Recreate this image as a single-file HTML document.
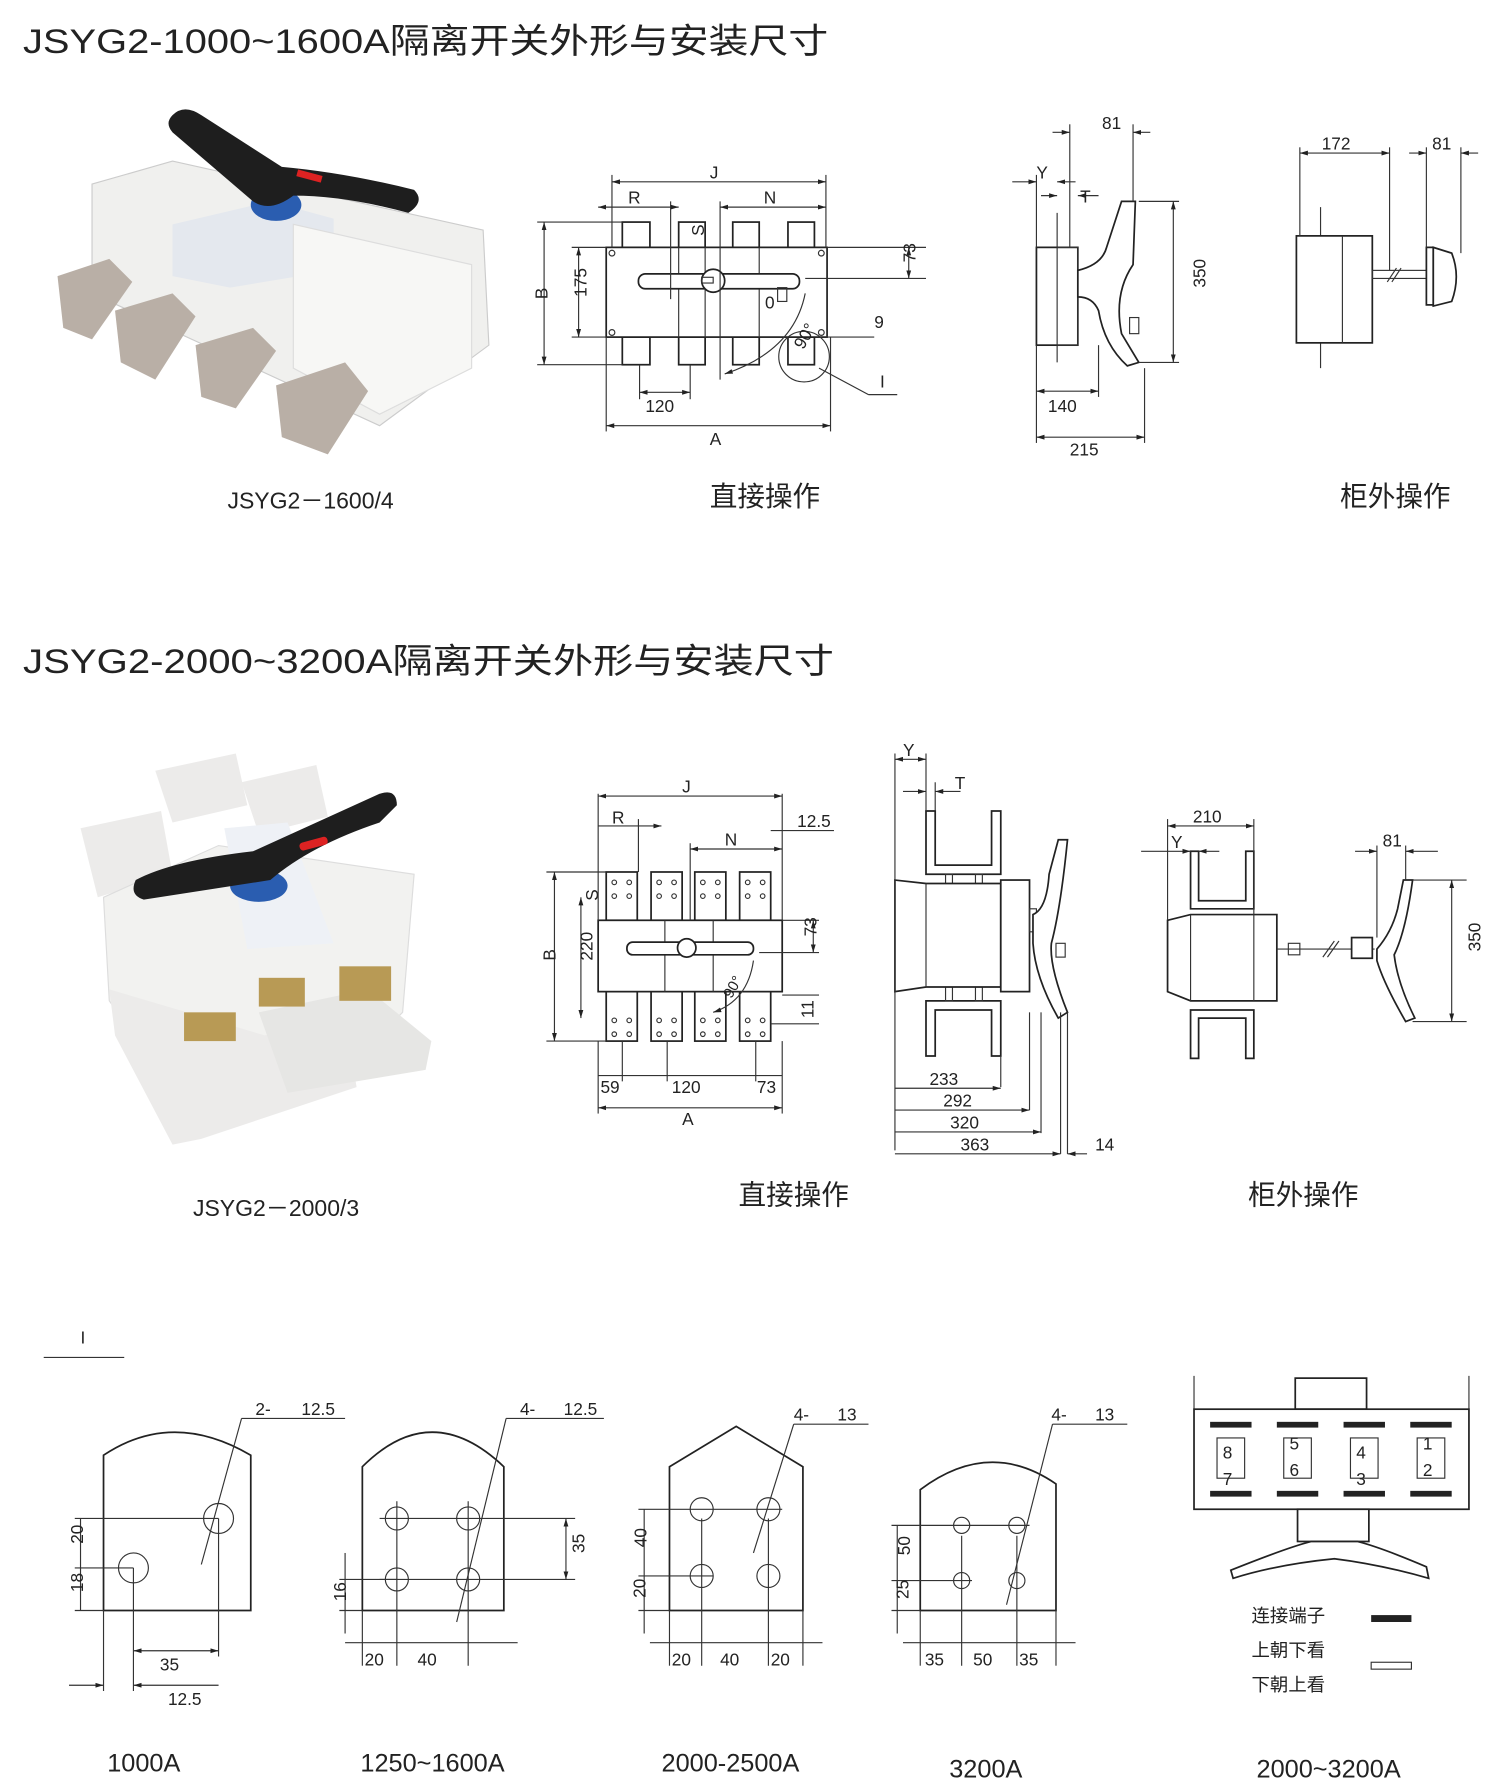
<!DOCTYPE html>
<html><head><meta charset="utf-8"><style>
html,body{margin:0;padding:0;background:#fff}
svg{display:block}
text{font-family:"Liberation Sans","Noto Sans CJK SC",sans-serif;fill:#222}
.l{stroke:#333;stroke-width:1;fill:none}
.b{stroke:#222;stroke-width:1.5;fill:#fff}
.t{font-size:15px}
</style></head><body>
<svg width="1500" height="1790" viewBox="0 0 1304 1556" xmlns="http://www.w3.org/2000/svg">
<defs><marker id="a" viewBox="0 0 10 10" refX="10" refY="5" markerWidth="7" markerHeight="7" orient="auto-start-reverse"><path d="M0,2L10,5L0,8z" fill="#222"/></marker></defs>

<!-- Section 1 -->
<text x="20" y="46" font-size="30" textLength="700" lengthAdjust="spacingAndGlyphs">JSYG2-1000~1600A隔离开关外形与安装尺寸</text>
<!-- photo 1 -->
<g>
<polygon points="80,160 150,140 420,200 425,300 330,370 80,255" fill="#f0f0ee" stroke="#ccc"/>
<polygon points="150,195 235,175 290,190 290,235 200,250 150,240" fill="#e4e8ee"/>
<polygon points="255,195 410,230 410,320 330,360 255,320" fill="#f7f7f5" stroke="#ddd"/>
<polygon points="50,240 95,225 115,245 80,295 55,285" fill="#b9afa6"/>
<polygon points="100,270 150,255 170,275 135,330 105,315" fill="#b9afa6"/>
<polygon points="170,300 220,285 240,305 205,355 175,345" fill="#b9afa6"/>
<polygon points="240,335 300,315 320,340 285,395 245,380" fill="#b9afa6"/>
<ellipse cx="240" cy="178" rx="22" ry="14" fill="#2a5db0"/>
<path d="M150,100 Q160,90 175,100 L245,145 Q300,150 360,165 Q370,175 355,185 Q300,170 255,170 Q235,185 220,175 L150,115 Q143,107 150,100Z" fill="#1e1e1e"/>
<rect x="258" y="150" width="22" height="6" fill="#d22" transform="rotate(15 269 153)"/>
</g>
<text x="270" y="442" font-size="20" text-anchor="middle">JSYG2－1600/4</text>

<!-- direct drawing 1 -->
<g>
<rect x="541" y="193" width="24" height="22" class="b"/><rect x="590" y="193" width="23" height="22" class="b"/>
<rect x="637" y="193" width="23" height="22" class="b"/><rect x="685" y="193" width="23" height="22" class="b"/>
<rect x="541" y="293" width="24" height="24" class="b"/><rect x="590" y="293" width="23" height="24" class="b"/>
<rect x="637" y="293" width="23" height="24" class="b"/><rect x="685" y="293" width="23" height="24" class="b"/>
<rect x="527" y="215" width="192" height="78" class="b"/>
<line x1="590" y1="215" x2="590" y2="293" class="l"/><line x1="613" y1="215" x2="613" y2="293" class="l"/><line x1="660" y1="215" x2="660" y2="293" class="l"/>
<rect x="555" y="238" width="140" height="13" rx="6" class="b"/>
<circle cx="620" cy="244" r="10" class="b"/><rect x="610" y="241" width="10" height="5" class="l"/>
<circle cx="532" cy="220" r="2.5" class="l"/><circle cx="714" cy="220" r="2.5" class="l"/>
<circle cx="532" cy="289" r="2.5" class="l"/><circle cx="714" cy="289" r="2.5" class="l"/>
<text x="665" y="268" class="t">0</text><rect x="676" y="250" width="8" height="12" class="l"/>
<circle cx="699" cy="310" r="22" class="l"/>
<path d="M700,255 Q690,305 630,325" class="l" marker-end="url(#a)"/>
<text x="690" y="300" class="t" transform="rotate(-60 698 295)">90°</text>
<line x1="712" y1="320" x2="755" y2="343" class="l"/><line x1="755" y1="343" x2="780" y2="343" class="l"/><text x="765" y="337" class="t">I</text>
<line x1="718" y1="293" x2="760" y2="293" class="l"/><text x="760" y="285" class="t">9</text>
<line x1="532" y1="152" x2="532" y2="215" class="l"/><line x1="718" y1="152" x2="718" y2="215" class="l"/>
<line x1="532" y1="158" x2="718" y2="158" class="l" marker-start="url(#a)" marker-end="url(#a)"/><text x="617" y="155" class="t">J</text>
<line x1="583" y1="175" x2="583" y2="260" class="l"/><line x1="626" y1="175" x2="626" y2="330" class="l"/>
<line x1="520" y1="180" x2="590" y2="180" class="l" marker-start="url(#a)" marker-end="url(#a)"/><text x="546" y="177" class="t">R</text>
<line x1="626" y1="180" x2="718" y2="180" class="l" marker-start="url(#a)" marker-end="url(#a)"/><text x="664" y="177" class="t">N</text>
<text x="607" y="210" class="t" transform="rotate(-90 607 205)">S</text>
<line x1="467" y1="193" x2="541" y2="193" class="l"/><line x1="467" y1="317" x2="541" y2="317" class="l"/>
<line x1="473" y1="193" x2="473" y2="317" class="l" marker-start="url(#a)" marker-end="url(#a)"/><text x="470" y="266" class="t" transform="rotate(-90 470 260)">B</text>
<line x1="497" y1="215" x2="527" y2="215" class="l"/><line x1="497" y1="293" x2="527" y2="293" class="l"/>
<line x1="503" y1="215" x2="503" y2="293" class="l" marker-start="url(#a)" marker-end="url(#a)"/><text x="498" y="270" class="t" transform="rotate(-90 498 258)">175</text>
<line x1="719" y1="215" x2="805" y2="215" class="l"/><line x1="700" y1="242" x2="805" y2="242" class="l"/>
<line x1="790" y1="215" x2="790" y2="242" class="l" marker-start="url(#a)" marker-end="url(#a)"/><text x="786" y="238" class="t" transform="rotate(-90 786 228)">73</text>
<line x1="556" y1="317" x2="556" y2="347" class="l"/><line x1="600" y1="317" x2="600" y2="347" class="l"/>
<line x1="556" y1="341" x2="600" y2="341" class="l" marker-start="url(#a)" marker-end="url(#a)"/><text x="561" y="358" class="t">120</text>
<line x1="527" y1="293" x2="527" y2="375" class="l"/><line x1="722" y1="293" x2="722" y2="375" class="l"/>
<line x1="527" y1="370" x2="722" y2="370" class="l" marker-start="url(#a)" marker-end="url(#a)"/><text x="617" y="387" class="t">A</text>
</g>
<text x="665" y="440" font-size="24" text-anchor="middle">直接操作</text>

<!-- side view 1 -->
<g>
<line x1="919" y1="185" x2="919" y2="315" class="l" stroke-width="2"/>
<rect x="901" y="215" width="36" height="85" class="b"/><rect x="919" y="215" width="18" height="85" class="l"/>
<path d="M937,235 Q958,230 962,215 L975,175 L987,175 L985,230 Q968,255 975,290 L990,315 L980,318 Q960,300 955,270 Q950,258 937,258Z" class="b"/>
<rect x="982" y="276" width="8" height="14" class="l"/>
<line x1="930" y1="108" x2="930" y2="215" class="l"/><line x1="985" y1="108" x2="985" y2="175" class="l"/>
<line x1="915" y1="115" x2="930" y2="115" class="l" marker-end="url(#a)"/><line x1="1000" y1="115" x2="985" y2="115" class="l" marker-end="url(#a)"/><text x="958" y="112" class="t">81</text>
<line x1="901" y1="152" x2="901" y2="215" class="l"/>
<line x1="880" y1="158" x2="901" y2="158" class="l" marker-end="url(#a)"/><line x1="935" y1="158" x2="919" y2="158" class="l" marker-end="url(#a)"/><text x="901" y="155" class="t">Y</text>
<line x1="905" y1="170" x2="919" y2="170" class="l" marker-end="url(#a)"/><line x1="955" y1="170" x2="937" y2="170" class="l" marker-end="url(#a)"/><text x="939" y="176" class="t">T</text>
<line x1="990" y1="175" x2="1025" y2="175" class="l"/><line x1="990" y1="315" x2="1025" y2="315" class="l"/>
<line x1="1020" y1="175" x2="1020" y2="315" class="l" marker-start="url(#a)" marker-end="url(#a)"/><text x="1036" y="262" class="t" transform="rotate(-90 1036 250)">350</text>
<line x1="901" y1="300" x2="901" y2="385" class="l"/><line x1="955" y1="300" x2="955" y2="345" class="l"/><line x1="995" y1="320" x2="995" y2="385" class="l"/>
<line x1="901" y1="340" x2="955" y2="340" class="l" marker-start="url(#a)" marker-end="url(#a)"/><text x="911" y="358" class="t">140</text>
<line x1="901" y1="380" x2="995" y2="380" class="l" marker-start="url(#a)" marker-end="url(#a)"/><text x="930" y="396" class="t">215</text>
</g>

<!-- cabinet 1 -->
<g>
<line x1="1148" y1="180" x2="1148" y2="320" class="l" stroke-width="2"/>
<rect x="1127" y="205" width="66" height="93" class="b"/><line x1="1167" y1="205" x2="1167" y2="298" class="l"/>
<rect x="1193" y="235" width="48" height="7" class="l"/><line x1="1206" y1="245" x2="1214" y2="233" class="l"/><line x1="1210" y1="245" x2="1218" y2="233" class="l"/>
<rect x="1240" y="215" width="6" height="50" class="b"/>
<path d="M1246,215 L1262,220 Q1270,240 1262,262 L1246,266Z" class="b"/>
<line x1="1130" y1="128" x2="1130" y2="205" class="l"/><line x1="1208" y1="128" x2="1208" y2="235" class="l"/>
<line x1="1240" y1="128" x2="1240" y2="215" class="l"/><line x1="1270" y1="128" x2="1270" y2="220" class="l"/>
<line x1="1130" y1="133" x2="1208" y2="133" class="l" marker-start="url(#a)" marker-end="url(#a)"/><text x="1149" y="130" class="t">172</text>
<line x1="1225" y1="133" x2="1240" y2="133" class="l" marker-end="url(#a)"/><line x1="1285" y1="133" x2="1270" y2="133" class="l" marker-end="url(#a)"/><text x="1245" y="130" class="t">81</text>
</g>
<text x="1213" y="440" font-size="24" text-anchor="middle">柜外操作</text>

<!-- Section 2 -->
<text x="20" y="585" font-size="30" textLength="705" lengthAdjust="spacingAndGlyphs">JSYG2-2000~3200A隔离开关外形与安装尺寸</text>
<g>
<polygon points="135,670 205,655 215,700 150,715" fill="#ecebea"/>
<polygon points="210,680 275,665 285,710 225,725" fill="#ecebea"/>
<polygon points="70,720 140,705 150,760 85,780" fill="#ecebea"/>
<polygon points="90,780 190,735 360,760 350,880 300,930 160,960 95,870" fill="#f2f2f0" stroke="#ddd"/>
<polygon points="95,860 230,900 300,885 310,945 175,990 150,995 100,900" fill="#ecebea"/>
<polygon points="225,880 320,860 375,905 370,930 250,950" fill="#e6e6e4"/>
<polygon points="195,720 250,715 290,820 215,825" fill="#eef1f6"/>
<ellipse cx="225" cy="770" rx="25" ry="14" fill="#2a5db0"/>
<path d="M118,765 Q150,748 220,740 L330,690 Q345,685 345,700 L330,715 Q270,735 235,765 L125,782 Q112,778 118,765Z" fill="#1e1e1e"/>
<rect x="260" y="730" width="25" height="7" rx="3" fill="#d22" transform="rotate(-15 272 733)"/>
<rect x="160" y="880" width="45" height="25" fill="#b89a55"/><rect x="295" y="840" width="45" height="30" fill="#b89a55"/><rect x="225" y="850" width="40" height="25" fill="#b89a55"/>
</g>
<text x="240" y="1057" font-size="20" text-anchor="middle">JSYG2－2000/3</text>

<!-- direct drawing 2 -->
<g>
<g id="tt"><rect x="527" y="758" width="27" height="42" class="b"/><circle cx="534" cy="767" r="2" class="l"/><circle cx="547" cy="767" r="2" class="l"/><circle cx="534" cy="779" r="2" class="l"/><circle cx="547" cy="779" r="2" class="l"/></g>
<use href="#tt" x="39"/><use href="#tt" x="77"/><use href="#tt" x="116"/>
<g id="tb"><rect x="527" y="862" width="27" height="43" class="b"/><circle cx="534" cy="887" r="2" class="l"/><circle cx="547" cy="887" r="2" class="l"/><circle cx="534" cy="899" r="2" class="l"/><circle cx="547" cy="899" r="2" class="l"/></g>
<use href="#tb" x="39"/><use href="#tb" x="77"/><use href="#tb" x="116"/>
<rect x="520" y="800" width="160" height="62" class="b"/>
<line x1="578" y1="800" x2="578" y2="862" class="l"/><line x1="620" y1="800" x2="620" y2="862" class="l"/>
<rect x="545" y="819" width="110" height="11" rx="5" class="b"/><circle cx="597" cy="824" r="8" class="b"/>
<path d="M655,835 Q650,870 620,880" class="l" marker-end="url(#a)"/>
<text x="628" y="865" font-size="13" transform="rotate(-60 635 860)">90°</text>
<line x1="520" y1="690" x2="520" y2="800" class="l"/><line x1="680" y1="690" x2="680" y2="800" class="l"/>
<line x1="520" y1="692" x2="680" y2="692" class="l" marker-start="url(#a)" marker-end="url(#a)"/><text x="593" y="689" class="t">J</text>
<line x1="555" y1="712" x2="555" y2="758" class="l"/>
<line x1="520" y1="718" x2="575" y2="718" class="l" marker-end="url(#a)"/><text x="532" y="716" class="t">R</text>
<line x1="600" y1="733" x2="600" y2="800" class="l"/>
<line x1="600" y1="738" x2="680" y2="738" class="l" marker-start="url(#a)" marker-end="url(#a)"/><text x="630" y="735" class="t">N</text>
<line x1="670" y1="722" x2="725" y2="722" class="l"/><text x="693" y="719" class="t">12.5</text>
<line x1="475" y1="758" x2="527" y2="758" class="l"/><line x1="475" y1="905" x2="527" y2="905" class="l"/>
<line x1="482" y1="758" x2="482" y2="905" class="l" marker-start="url(#a)" marker-end="url(#a)"/><text x="478" y="840" class="t" transform="rotate(-90 478 835)">B</text>
<line x1="505" y1="780" x2="505" y2="885" class="l" marker-start="url(#a)" marker-end="url(#a)"/><text x="505" y="845" class="t" transform="rotate(-90 505 835)">220</text>
<text x="513" y="790" class="t" transform="rotate(-90 513 783)">S</text>
<line x1="680" y1="800" x2="712" y2="800" class="l"/><line x1="660" y1="828" x2="712" y2="828" class="l"/>
<line x1="707" y1="800" x2="707" y2="828" class="l" marker-start="url(#a)" marker-end="url(#a)"/><text x="702" y="822" class="t" transform="rotate(-90 702 814)">73</text>
<line x1="680" y1="865" x2="712" y2="865" class="l"/><line x1="670" y1="890" x2="712" y2="890" class="l"/>
<text x="702" y="890" class="t" transform="rotate(-90 702 885)">11</text>
<line x1="541" y1="905" x2="541" y2="940" class="l"/><line x1="580" y1="905" x2="580" y2="940" class="l"/><line x1="657" y1="905" x2="657" y2="940" class="l"/>
<line x1="520" y1="935" x2="680" y2="935" class="l"/>
<text x="522" y="950" class="t">59</text><text x="584" y="950" class="t">120</text><text x="658" y="950" class="t">73</text>
<line x1="520" y1="905" x2="520" y2="968" class="l"/><line x1="680" y1="905" x2="680" y2="968" class="l"/>
<line x1="520" y1="963" x2="680" y2="963" class="l" marker-start="url(#a)" marker-end="url(#a)"/><text x="593" y="978" class="t">A</text>
</g>
<text x="690" y="1047" font-size="24" text-anchor="middle">直接操作</text>

<!-- side view 2 -->
<g>
<path d="M805,705 L805,760 L870,760 L870,705 L862,705 L862,752 L813,752 L813,705Z" class="b"/>
<path d="M805,918 L805,870 L870,870 L870,918 L862,918 L862,878 L813,878 L813,918Z" class="b"/>
<rect x="822" y="760" width="6" height="8" class="l"/><rect x="848" y="760" width="6" height="8" class="l"/>
<rect x="822" y="858" width="6" height="12" class="l"/><rect x="848" y="858" width="6" height="12" class="l"/>
<path d="M778,765 L805,768 L870,768 L870,858 L805,858 L778,862Z" class="b"/>
<line x1="805" y1="768" x2="805" y2="858" class="l"/>
<rect x="870" y="765" width="25" height="97" class="b"/>
<rect x="895" y="790" width="6" height="20" class="l"/>
<path d="M898,795 Q910,790 912,760 L920,730 L928,730 Q922,790 914,820 Q912,840 928,880 L920,885 Q900,850 898,820Z" class="b"/>
<rect x="918" y="820" width="8" height="12" class="l"/>
<line x1="778" y1="655" x2="778" y2="1000" class="l"/><line x1="805" y1="655" x2="805" y2="705" class="l"/><line x1="813" y1="680" x2="813" y2="705" class="l"/>
<line x1="778" y1="660" x2="805" y2="660" class="l" marker-start="url(#a)" marker-end="url(#a)"/><text x="785" y="657" class="t">Y</text>
<line x1="785" y1="688" x2="805" y2="688" class="l" marker-end="url(#a)"/><line x1="835" y1="688" x2="813" y2="688" class="l" marker-end="url(#a)"/><text x="830" y="686" class="t">T</text>
<line x1="870" y1="918" x2="870" y2="945" class="l"/><line x1="895" y1="880" x2="895" y2="965" class="l"/><line x1="905" y1="880" x2="905" y2="985" class="l"/>
<line x1="922" y1="880" x2="922" y2="1003" class="l"/><line x1="928" y1="880" x2="928" y2="1003" class="l"/>
<line x1="778" y1="946" x2="870" y2="946" class="l" marker-end="url(#a)"/><text x="808" y="943" class="t">233</text>
<line x1="778" y1="965" x2="895" y2="965" class="l" marker-end="url(#a)"/><text x="820" y="962" class="t">292</text>
<line x1="778" y1="984" x2="905" y2="984" class="l" marker-end="url(#a)"/><text x="826" y="981" class="t">320</text>
<line x1="778" y1="1003" x2="922" y2="1003" class="l" marker-end="url(#a)"/><text x="835" y="1000" class="t">363</text>
<line x1="945" y1="1003" x2="928" y2="1003" class="l" marker-end="url(#a)"/><text x="952" y="1000" class="t">14</text>
</g>

<!-- cabinet 2 -->
<g>
<path d="M1035,740 L1035,790 L1090,790 L1090,740 L1083,740 L1083,783 L1042,783 L1042,740Z" class="b"/>
<path d="M1035,920 L1035,878 L1090,878 L1090,920 L1083,920 L1083,885 L1042,885 L1042,920Z" class="b"/>
<path d="M1015,800 L1035,795 L1110,795 L1110,870 L1035,870 L1015,862Z" class="b"/>
<line x1="1035" y1="795" x2="1035" y2="870" class="l"/><line x1="1090" y1="795" x2="1090" y2="870" class="l"/>
<line x1="1110" y1="825" x2="1195" y2="825" class="l" stroke-width="3"/>
<rect x="1120" y="820" width="10" height="10" class="l"/><rect x="1175" y="815" width="18" height="18" class="b"/>
<line x1="1150" y1="832" x2="1160" y2="818" class="l"/><line x1="1154" y1="832" x2="1164" y2="818" class="l"/>
<path d="M1197,825 Q1210,810 1215,790 L1220,765 L1228,765 Q1222,810 1212,830 Q1215,855 1230,885 L1222,888 Q1203,855 1197,835Z" class="b"/>
<line x1="1015" y1="712" x2="1015" y2="800" class="l"/><line x1="1090" y1="712" x2="1090" y2="795" class="l"/>
<line x1="1015" y1="718" x2="1090" y2="718" class="l" marker-start="url(#a)" marker-end="url(#a)"/><text x="1037" y="715" class="t">210</text>
<line x1="992" y1="740" x2="1035" y2="740" class="l" marker-end="url(#a)"/><line x1="1060" y1="740" x2="1042" y2="740" class="l" marker-end="url(#a)"/><text x="1018" y="737" class="t">Y</text>
<line x1="1197" y1="735" x2="1197" y2="815" class="l"/><line x1="1222" y1="735" x2="1222" y2="765" class="l"/>
<line x1="1178" y1="740" x2="1197" y2="740" class="l" marker-end="url(#a)"/><line x1="1250" y1="740" x2="1222" y2="740" class="l" marker-end="url(#a)"/><text x="1202" y="736" class="t">81</text>
<line x1="1228" y1="765" x2="1275" y2="765" class="l"/><line x1="1228" y1="888" x2="1275" y2="888" class="l"/>
<line x1="1262" y1="765" x2="1262" y2="888" class="l" marker-start="url(#a)" marker-end="url(#a)"/><text x="1276" y="838" class="t" transform="rotate(-90 1276 827)">350</text>
</g>
<text x="1133" y="1047" font-size="24" text-anchor="middle">柜外操作</text>

<!-- Section I -->
<text x="70" y="1168" class="t">I</text><line x1="38" y1="1180" x2="108" y2="1180" class="l"/>

<g>
<path d="M90,1400 L90,1265 Q150,1225 218,1265 L218,1400Z" class="b" stroke-width="1.2"/>
<circle cx="190" cy="1320" r="13" class="l"/><circle cx="116" cy="1363" r="13" class="l"/>
<line x1="65" y1="1320" x2="190" y2="1320" class="l"/><line x1="65" y1="1363" x2="116" y2="1363" class="l"/><line x1="65" y1="1400" x2="90" y2="1400" class="l"/>
<line x1="70" y1="1320" x2="70" y2="1363" class="l"/><line x1="70" y1="1363" x2="70" y2="1400" class="l"/>
<text x="66" y="1348" class="t" transform="rotate(-90 66 1342)">20</text><text x="66" y="1390" class="t" transform="rotate(-90 66 1384)">18</text>
<line x1="90" y1="1400" x2="90" y2="1470" class="l"/><line x1="116" y1="1363" x2="116" y2="1470" class="l"/><line x1="190" y1="1320" x2="190" y2="1440" class="l"/>
<line x1="116" y1="1435" x2="190" y2="1435" class="l" marker-start="url(#a)" marker-end="url(#a)"/><text x="139" y="1452" class="t">35</text>
<line x1="60" y1="1465" x2="90" y2="1465" class="l" marker-end="url(#a)"/><line x1="190" y1="1465" x2="116" y2="1465" class="l" marker-end="url(#a)"/><text x="146" y="1482" class="t">12.5</text>
<line x1="175" y1="1360" x2="210" y2="1233" class="l"/><line x1="210" y1="1233" x2="300" y2="1233" class="l"/><text x="222" y="1230" class="t">2-</text><text x="262" y="1230" class="t">12.5</text>
</g>
<text x="125" y="1540" font-size="22" text-anchor="middle">1000A</text>

<g>
<path d="M315,1400 L315,1275 Q375,1215 438,1275 L438,1400Z" class="b" stroke-width="1.2"/>
<circle cx="345" cy="1320" r="10" class="l"/><circle cx="407" cy="1320" r="10" class="l"/><circle cx="345" cy="1373" r="10" class="l"/><circle cx="407" cy="1373" r="10" class="l"/>
<line x1="345" y1="1305" x2="345" y2="1448" class="l"/><line x1="407" y1="1305" x2="407" y2="1448" class="l"/><line x1="315" y1="1400" x2="315" y2="1448" class="l"/>
<line x1="330" y1="1320" x2="500" y2="1320" class="l"/><line x1="330" y1="1373" x2="500" y2="1373" class="l"/>
<line x1="492" y1="1320" x2="492" y2="1373" class="l" marker-start="url(#a)" marker-end="url(#a)"/><text x="500" y="1358" class="t" transform="rotate(-90 500 1350)">35</text>
<line x1="295" y1="1373" x2="345" y2="1373" class="l"/><line x1="295" y1="1400" x2="315" y2="1400" class="l"/>
<line x1="300" y1="1350" x2="300" y2="1420" class="l"/><text x="295" y="1398" class="t" transform="rotate(-90 295 1392)">16</text>
<line x1="300" y1="1428" x2="450" y2="1428" class="l"/><text x="317" y="1448" class="t">20</text><text x="363" y="1448" class="t">40</text>
<line x1="397" y1="1410" x2="440" y2="1233" class="l"/><line x1="440" y1="1233" x2="525" y2="1233" class="l"/><text x="452" y="1230" class="t">4-</text><text x="490" y="1230" class="t">12.5</text>
</g>
<text x="376" y="1540" font-size="22" text-anchor="middle">1250~1600A</text>

<g>
<path d="M582,1400 L582,1275 L640,1240 L698,1275 L698,1400Z" class="b" stroke-width="1.2"/>
<circle cx="610" cy="1312" r="10" class="l"/><circle cx="668" cy="1312" r="10" class="l"/><circle cx="610" cy="1370" r="10" class="l"/><circle cx="668" cy="1370" r="10" class="l"/>
<line x1="555" y1="1312" x2="680" y2="1312" class="l"/><line x1="555" y1="1370" x2="620" y2="1370" class="l"/><line x1="555" y1="1400" x2="582" y2="1400" class="l"/>
<line x1="560" y1="1312" x2="560" y2="1420" class="l"/>
<text x="555" y="1352" class="t" transform="rotate(-90 555 1345)">40</text><text x="555" y="1395" class="t" transform="rotate(-90 555 1389)">20</text>
<line x1="582" y1="1400" x2="582" y2="1448" class="l"/><line x1="610" y1="1320" x2="610" y2="1448" class="l"/><line x1="668" y1="1320" x2="668" y2="1448" class="l"/><line x1="698" y1="1400" x2="698" y2="1448" class="l"/>
<line x1="565" y1="1428" x2="715" y2="1428" class="l"/><text x="584" y="1448" class="t">20</text><text x="626" y="1448" class="t">40</text><text x="670" y="1448" class="t">20</text>
<line x1="655" y1="1350" x2="690" y2="1238" class="l"/><line x1="690" y1="1238" x2="755" y2="1238" class="l"/><text x="690" y="1235" class="t">4-</text><text x="728" y="1235" class="t">13</text>
</g>
<text x="635" y="1540" font-size="22" text-anchor="middle">2000-2500A</text>

<g>
<path d="M800,1400 L800,1295 Q860,1250 918,1290 L918,1400Z" class="b" stroke-width="1.2"/>
<circle cx="836" cy="1326" r="7" class="l"/><circle cx="884" cy="1326" r="7" class="l"/><circle cx="836" cy="1374" r="7" class="l"/><circle cx="884" cy="1374" r="7" class="l"/>
<line x1="775" y1="1326" x2="895" y2="1326" class="l"/><line x1="775" y1="1374" x2="845" y2="1374" class="l"/><line x1="775" y1="1400" x2="800" y2="1400" class="l"/>
<line x1="780" y1="1326" x2="780" y2="1420" class="l"/>
<text x="783" y="1360" class="t" transform="rotate(-90 783 1352)">50</text><text x="783" y="1397" class="t" transform="rotate(-90 783 1390)">25</text>
<line x1="800" y1="1400" x2="800" y2="1448" class="l"/><line x1="836" y1="1335" x2="836" y2="1448" class="l"/><line x1="884" y1="1335" x2="884" y2="1448" class="l"/><line x1="918" y1="1400" x2="918" y2="1448" class="l"/>
<line x1="785" y1="1428" x2="935" y2="1428" class="l"/><text x="804" y="1448" class="t">35</text><text x="846" y="1448" class="t">50</text><text x="886" y="1448" class="t">35</text>
<line x1="875" y1="1395" x2="915" y2="1238" class="l"/><line x1="915" y1="1238" x2="980" y2="1238" class="l"/><text x="914" y="1235" class="t">4-</text><text x="952" y="1235" class="t">13</text>
</g>
<text x="857" y="1545" font-size="22" text-anchor="middle">3200A</text>

<g>
<path d="M1038,1196 L1038,1225 L1277,1225 L1277,1196" class="l" stroke-width="1.5"/>
<rect x="1126" y="1198" width="62" height="27" class="b"/>
<rect x="1038" y="1225" width="239" height="87" class="b"/>
<rect x="1128" y="1312" width="62" height="28" class="b"/>
<path d="M1070,1365 Q1120,1345 1140,1340 L1180,1340 Q1200,1345 1240,1362 L1242,1372 Q1200,1360 1160,1355 Q1110,1360 1072,1372Z" class="b"/>
<rect x="1052" y="1236" width="36" height="5" fill="#222"/><rect x="1052" y="1296" width="36" height="5" fill="#222"/><rect x="1058" y="1250" width="24" height="35" class="l"/><text x="1063" y="1268" class="t">8</text><text x="1063" y="1291" class="t">7</text>
<rect x="1110" y="1236" width="36" height="5" fill="#222"/><rect x="1110" y="1296" width="36" height="5" fill="#222"/><rect x="1116" y="1250" width="24" height="35" class="l"/><text x="1121" y="1260" class="t">5</text><text x="1121" y="1283" class="t">6</text>
<rect x="1168" y="1236" width="36" height="5" fill="#222"/><rect x="1168" y="1296" width="36" height="5" fill="#222"/><rect x="1174" y="1250" width="24" height="35" class="l"/><text x="1179" y="1268" class="t">4</text><text x="1179" y="1291" class="t">3</text>
<rect x="1226" y="1236" width="36" height="5" fill="#222"/><rect x="1226" y="1296" width="36" height="5" fill="#222"/><rect x="1232" y="1250" width="24" height="35" class="l"/><text x="1237" y="1260" class="t">1</text><text x="1237" y="1283" class="t">2</text>
<text x="1088" y="1410" font-size="16">连接端子</text><rect x="1192" y="1404" width="35" height="6" fill="#222"/>
<text x="1088" y="1440" font-size="16">上朝下看</text><rect x="1192" y="1445" width="35" height="6" class="l"/>
<text x="1088" y="1470" font-size="16">下朝上看</text>
</g>
<text x="1155" y="1545" font-size="22" text-anchor="middle">2000~3200A</text>
</svg>
</body></html>
